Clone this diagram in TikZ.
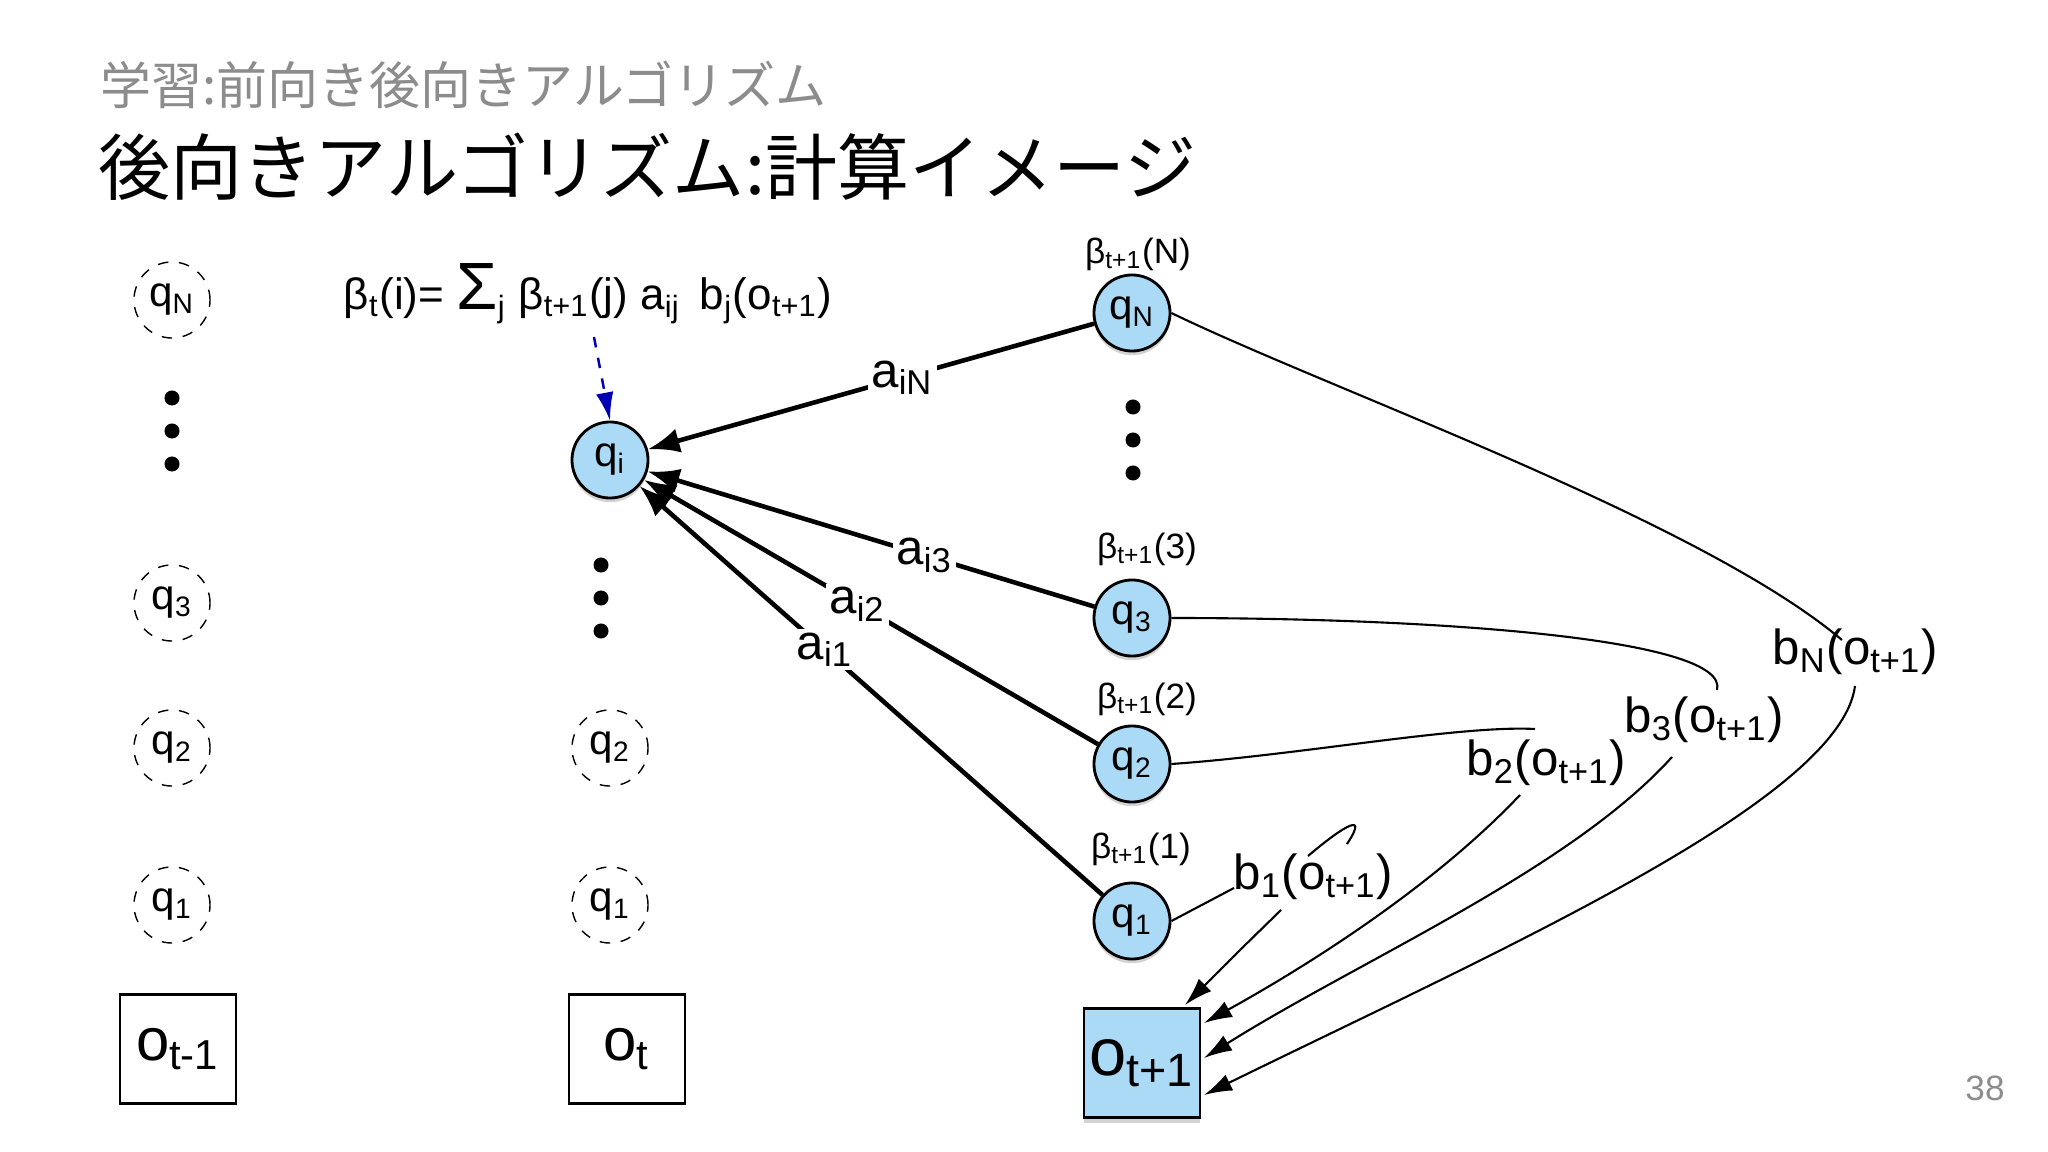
\documentclass[tikz,border=0pt]{standalone}
\usepackage{fontspec}
\setmainfont{Liberation Sans}
\newfontfamily\cjk{Noto Sans CJK JP}
\usetikzlibrary{shadows,arrows.meta}
\definecolor{qblue}{RGB}{170,218,245}
\definecolor{ttlgray}{RGB}{140,140,140}
\newcommand{\sbs}[1]{\textsubscript{#1}}
\begin{document}
\begin{tikzpicture}[x=0.01cm,y=-0.01cm,
  dst/.style={circle,draw,dashed,minimum size=0.76cm,inner sep=0pt,font=\fontsize{12}{12}\selectfont},
  st/.style={circle,draw,fill=qblue,minimum size=0.76cm,inner sep=0pt,line width=0.8pt,font=\fontsize{12}{12}\selectfont,drop shadow={opacity=0.35,shadow xshift=0pt,shadow yshift=-1.2pt}},
  obs/.style={draw,minimum width=1.16cm,minimum height=1.09cm,inner sep=0pt,line width=0.6pt},
  dot/.style={circle,fill=black,minimum size=0.15cm,inner sep=0pt},
  tr/.style={line width=1.3pt,-{Latex[length=9pt,width=7pt]}},
  em/.style={line width=0.6pt},
  ema/.style={line width=0.6pt,-{Latex[length=8pt,width=5pt]}},
  lab/.style={fill=white,inner sep=1pt,font=\fontsize{14}{14}\selectfont},
  blab/.style={inner sep=1pt,font=\fontsize{14}{14}\selectfont},
  bet/.style={inner sep=0pt,font=\fontsize{10}{10}\selectfont}]
\useasboundingbox (0,0) rectangle (2048,1152);
\node[anchor=west,text=ttlgray,font=\cjk\fontsize{14.5}{14.5}\selectfont] (sub) at (88,85) {学習:前向き後向きアルゴリズム};
\node[anchor=west,font=\cjk\fontsize{20.5}{20.5}\selectfont] (ttl) at (86,167) {後向きアルゴリズム:計算イメージ};
\node[text=ttlgray,font=\fontsize{10}{10}\selectfont] (pg) at (1985,1088) {38};
% column t-1
\node[dst] (aN) at (172,300) {q\sbs{N}};
\node[dot] (ad1) at (172,398) {};
\node[dot] (ad2) at (172,431) {};
\node[dot] (ad3) at (172,464) {};
\node[dst] (a3) at (172,603) {q\sbs{3}};
\node[dst] (a2) at (172,748) {q\sbs{2}};
\node[dst] (a1) at (172,905) {q\sbs{1}};
\node[obs,font=\fontsize{17}{17}\selectfont] (ao) at (178,1049) {o\sbs{t-1}};
% column t
\node[st] (qi) at (610,460) {q\sbs{i}};
\node[dot] (bd1) at (601,565) {};
\node[dot] (bd2) at (601,598) {};
\node[dot] (bd3) at (601,631) {};
\node[dst] (b2) at (610,748) {q\sbs{2}};
\node[dst] (b1) at (610,905) {q\sbs{1}};
\node[obs,font=\fontsize{17}{17}\selectfont] (bo) at (627,1049) {o\sbs{t}};
% column t+1
\node[st] (cN) at (1132,313) {q\sbs{N}};
\node[dot] (cd1) at (1133,407) {};
\node[dot] (cd2) at (1133,440) {};
\node[dot] (cd3) at (1133,473) {};
\node[st] (c3) at (1132,618) {q\sbs{3}};
\node[st] (c2) at (1132,764) {q\sbs{2}};
\node[st] (c1) at (1132,921) {q\sbs{1}};
\node[obs,fill=qblue,line width=0.8pt,font=\fontsize{19}{19}\selectfont,drop shadow={opacity=0.35,shadow xshift=0pt,shadow yshift=-1.5pt}] (co) at (1142,1063) {o\sbs{t+1}};
\node[bet] (betN) at (1138,254) {β\sbs{t+1}(N)};
\node[bet] (bet3) at (1147,549) {β\sbs{t+1}(3)};
\node[bet] (bet2) at (1147,699) {β\sbs{t+1}(2)};
\node[bet] (bet1) at (1141,849) {β\sbs{t+1}(1)};
% formula
\node[blab,font=\fontsize{12.5}{12.5}\selectfont] (form) at (588,294) {β\sbs{t}(i)= {\fontsize{19}{19}\selectfont Σ}\sbs{j} β\sbs{t+1}(j) a\sbs{ij}\, b\sbs{j}(o\sbs{t+1})};
\coordinate (fa) at (594,337);
\draw[dashed,blue!70!black,line width=0.7pt,-{Latex[length=8pt,width=5pt]}] (fa) -- (qi.north);
% transitions
\draw[tr] (cN) -- node[lab,pos=0.43] {a\sbs{iN}} (qi);
\draw[tr] (c3) -- node[lab,pos=0.38] {a\sbs{i3}} (qi);
\draw[tr] (c2) -- node[lab,pos=0.53] {a\sbs{i2}} (qi);
\draw[tr] (c1) -- node[lab,pos=0.6] {a\sbs{i1}} (qi);
% emission labels
\node[blab] (e1) at (1313,877) {b\sbs{1}(o\sbs{t+1})};
\node[blab] (e2) at (1546,763) {b\sbs{2}(o\sbs{t+1})};
\node[blab] (e3) at (1704,720) {b\sbs{3}(o\sbs{t+1})};
\node[blab] (eN) at (1855,652) {b\sbs{N}(o\sbs{t+1})};
\coordinate (e1u) at (1234,888);
\coordinate (e1d) at (1281,910);
\coordinate (e2u) at (1535,729);
\coordinate (e2d) at (1520,795);
\coordinate (e3u) at (1717,690);
\coordinate (e3d) at (1672,757);
\coordinate (eNu) at (1842,640);
\coordinate (eNd) at (1855,686);
\coordinate (t1) at (1185,1005);
\coordinate (t2) at (1204,1023);
\coordinate (t3) at (1204,1058);
\coordinate (t4) at (1204,1095);
\coordinate (h1) at (1308,856);
\coordinate (h2) at (1347,844);
\draw[em] (c1.east) -- (e1u);
\draw[em] (h1) .. controls (1335,833) and (1372,806) .. (h2);
\draw[em] (c2.east) .. controls (1300,755) and (1460,725) .. (e2u);
\draw[em] (c3.east) .. controls (1450,618) and (1730,640) .. (e3u);
\draw[em] (cN.east) .. controls (1330,390) and (1700,520) .. (eNu);
\draw[ema] (e1d) .. controls (1240,950) .. (t1);
\draw[ema] (e2d) .. controls (1430,890) and (1300,970) .. (t2);
\draw[ema] (e3d) .. controls (1570,870) and (1360,960) .. (t3);
\draw[ema] (eNd) .. controls (1840,800) and (1500,950) .. (t4);
\end{tikzpicture}
\end{document}
